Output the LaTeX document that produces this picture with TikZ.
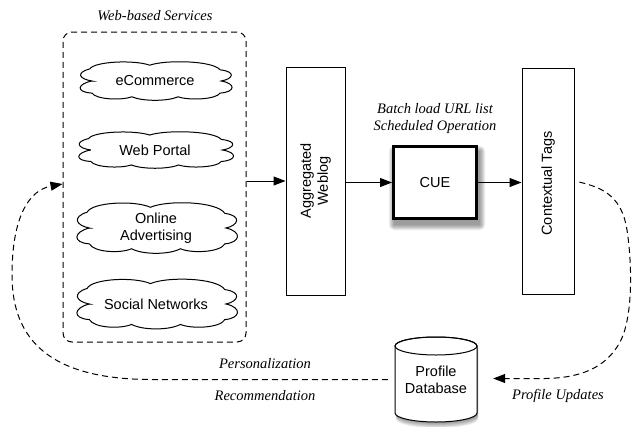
\documentclass[tikz,border=0pt]{standalone}
\usepackage{fontspec}
\setmainfont{Liberation Serif}
\setsansfont{Liberation Sans}
\usetikzlibrary{arrows.meta,calc}
\tikzset{
  lbl/.style={font=\sffamily\fontsize{14.5}{17}\selectfont, align=center, inner sep=0pt},
  ann/.style={font=\itshape\fontsize{14.5}{17}\selectfont, align=center, inner sep=0pt},
  tallbox/.style={draw, line width=1pt, fill=white, inner sep=0pt},
  flow/.style={line width=1pt, -{Triangle[length=12pt,width=9pt]}},
  dflow/.style={line width=1pt, dash pattern=on 6pt off 4pt, -{Triangle[length=12pt,width=9pt]}},
  shadowlayer/.style={fill=black, opacity=0.08},
  webcloud/.pic={
    \draw[line width=1pt, fill=white] (-60,0)
      .. controls (-72,-2) and (-76,-9) .. (-62,-13)
      .. controls (-58,-21) and (-20,-23) .. (-5,-17)
      .. controls (10,-23) and (55,-22) .. (62,-12)
      .. controls (78,-10) and (74,-2) .. (63,0)
      .. controls (78,3) and (76,12) .. (62,13)
      .. controls (58,20) and (32,21) .. (22,17)
      .. controls (12,22) and (-12,22) .. (-22,17)
      .. controls (-32,21) and (-56,20) .. (-60,13)
      .. controls (-76,12) and (-74,3) .. cycle;
  },
  cylbody/.pic={
    \path[pic actions] (-41,-34) -- (-41,33)
      arc[start angle=180,end angle=360,x radius=41pt,y radius=9pt]
      -- (41,-34)
      arc[start angle=0,end angle=180,x radius=41pt,y radius=9pt] -- cycle;
  }
}
\begin{document}
\begin{tikzpicture}[x=1pt,y=-1pt]
\useasboundingbox (0,0) rectangle (632,426);

% container
\node[draw, line width=1pt, dash pattern=on 6pt off 4pt, rounded corners=9pt,
      minimum width=183pt, minimum height=310pt, inner sep=0pt] (web) at (154.5,187) {};
\node[ann] (webtitle) at (155,16) {Web-based Services};

% clouds
\pic[xscale=1.05,yscale=0.93] at (155,81) {webcloud};
\node[lbl] (ecom) at (155,81) {eCommerce};
\pic[xscale=1.07,yscale=0.88] at (155,150) {webcloud};
\node[lbl] (portal) at (155,150) {Web Portal};
\pic[xscale=1.11,yscale=1.22] at (156,228) {webcloud};
\node[lbl] (adv) at (156,228) {Online\\Advertising};
\pic[xscale=1.11,yscale=1.2] at (156,304) {webcloud};
\node[lbl] (social) at (156,304) {Social Networks};

% boxes
\node[tallbox, minimum width=59pt, minimum height=228pt] (agg) at (315.5,181) {};
\node[lbl, rotate=90] (aggtxt) at (agg.center) {Aggregated\\Weblog};

% CUE shadow
\foreach \d in {0,1,2,3,4,5}{
  \fill[shadowlayer, rounded corners=\d pt] (394-\d,151-\d) rectangle (480+\d,225+\d);
}
\node[draw, line width=3pt, fill=white, minimum width=83pt, minimum height=72pt] (cue) at (435,182.5) {};
\node[lbl] (cuetxt) at (cue.center) {CUE};
\node[ann] (batch) at (435,118.5) {Batch load URL list\\Scheduled Operation};

\node[tallbox, minimum width=52pt, minimum height=226pt] (ctx) at (548,181) {};
\node[lbl, rotate=90] (ctxtxt) at (548,183.5) {Contextual Tags};

% database
\foreach \d in {1,2,3,4,5,6}{
  \pic[shadowlayer] at (437,380+\d) {cylbody};
}
\pic[fill=white, draw, line width=1pt] at (436,380) {cylbody};
\draw[line width=1pt] (436,346) ellipse[x radius=41pt, y radius=9pt];
\node[minimum width=82pt, minimum height=85pt, inner sep=0pt] (db) at (436,379.5) {};
\node[lbl] (dbtxt) at (436,380) {Profile\\Database};

% arrows
\draw[flow] (web.east |- agg.west) -- (agg.west);
\draw[flow] (agg.east |- cue.west) -- (cue.west);
\draw[flow] (cue.east) -- (ctx.west |- cue.east);

\draw[dflow, shorten <=5pt, shorten >=16pt] (ctx.east)
  .. controls (605,188) and (622,198) .. (627,230)
  .. controls (633,270) and (632,320) .. (620,342)
  .. controls (606,368) and (580,378) .. (545,378.5)
  -- (db.east |- 0,378.5);
\node[ann] (updtxt) at (558,396) {Profile Updates};

\draw[dflow, shorten <=7pt] (db.west)
  -- (150,379.5)
  .. controls (50,379) and (12,340) .. (12,275)
  .. controls (12,215) and (30,190) .. ($(web.west)+(0,-3)$);
\node[ann] (perstxt) at (265,364) {Personalization};
\node[ann] (rectxt) at (265,396) {Recommendation};
\end{tikzpicture}
\end{document}
